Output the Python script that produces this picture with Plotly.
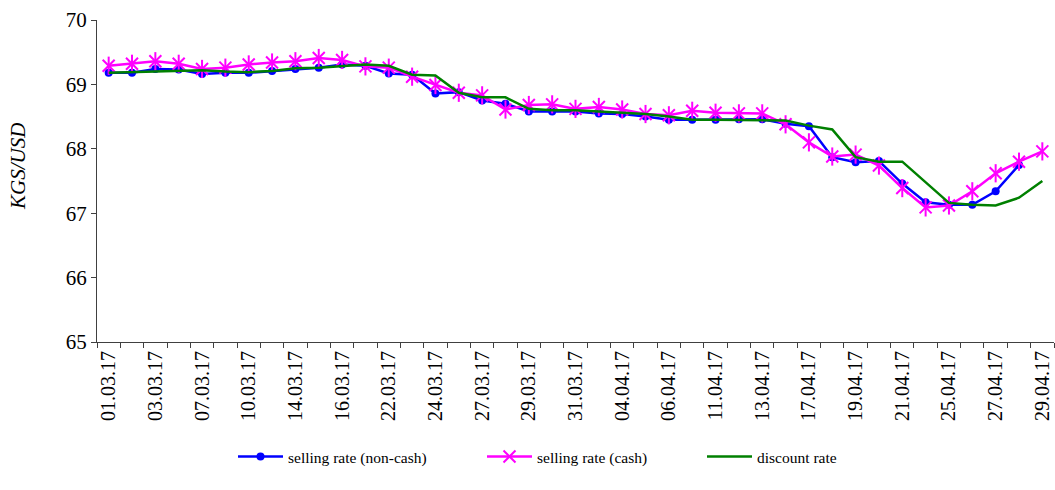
import plotly.graph_objects as go

dates = ["01.03.17", "02.03.17", "03.03.17", "06.03.17", "07.03.17", "09.03.17", "10.03.17",
         "13.03.17", "14.03.17", "15.03.17", "16.03.17", "17.03.17", "22.03.17", "23.03.17",
         "24.03.17", "25.03.17", "27.03.17", "28.03.17", "29.03.17", "30.03.17", "31.03.17",
         "03.04.17", "04.04.17", "05.04.17", "06.04.17", "10.04.17", "11.04.17", "12.04.17",
         "13.04.17", "14.04.17", "17.04.17", "18.04.17", "19.04.17", "20.04.17", "21.04.17",
         "24.04.17", "25.04.17", "26.04.17", "27.04.17", "28.04.17", "29.04.17"]

non_cash = [69.18, 69.18, 69.24, 69.23, 69.16, 69.18, 69.18, 69.21, 69.24, 69.26, 69.31,
            69.29, 69.17, 69.15, 68.86, 68.88, 68.75, 68.70, 68.58, 68.58, 68.58, 68.55,
            68.54, 68.50, 68.45, 68.45, 68.45, 68.46, 68.46, 68.39, 68.35, 67.87, 67.79,
            67.81, 67.46, 67.17, 67.13, 67.13, 67.34, 67.75, None]

cash = [69.29, 69.32, 69.36, 69.32, 69.24, 69.26, 69.31, 69.34, 69.36, 69.41, 69.38,
        69.28, 69.26, 69.12, 68.99, 68.87, 68.83, 68.61, 68.68, 68.69, 68.62, 68.65,
        68.61, 68.54, 68.52, 68.59, 68.56, 68.55, 68.55, 68.38, 68.10, 67.88, 67.91,
        67.74, 67.39, 67.09, 67.12, 67.34, 67.62, 67.80, 67.96]

discount = [69.18, 69.19, 69.20, 69.21, 69.22, 69.20, 69.19, 69.21, 69.25, 69.26, 69.28,
            69.31, 69.29, 69.15, 69.14, 68.87, 68.80, 68.80, 68.62, 68.60, 68.60, 68.58,
            68.56, 68.54, 68.50, 68.45, 68.45, 68.45, 68.45, 68.44, 68.36, 68.30, 67.87,
            67.80, 67.80, 67.48, 67.16, 67.13, 67.12, 67.24, 67.50]

tick_labels = [d if i % 2 == 0 else "" for i, d in enumerate(dates)]

FONT = "Liberation Serif, Times New Roman, serif"
BLUE = "#0000FF"
PINK = "#FF00FF"
GREEN = "#008000"

fig = go.Figure()
fig.add_trace(go.Scatter(
    x=dates, y=non_cash, name="selling rate (non-cash)", mode="lines+markers",
    legend="legend",
    line=dict(color=BLUE, width=2.5),
    marker=dict(symbol="circle", size=8, color=BLUE),
))
fig.add_trace(go.Scatter(
    x=dates, y=cash, name="selling rate (cash)", mode="lines+markers",
    legend="legend2", legendgroup="cash",
    line=dict(color=PINK, width=2.5),
    marker=dict(symbol="x-thin-open", size=12, color=PINK, line=dict(color=PINK, width=2)),
))
fig.add_trace(go.Scatter(
    x=dates, y=cash, name="selling rate (cash)", mode="markers",
    legend="legend2", legendgroup="cash", showlegend=False, hoverinfo="skip",
    marker=dict(symbol="line-ns-open", size=13, color=PINK, line=dict(color=PINK, width=2)),
))
fig.add_trace(go.Scatter(
    x=dates, y=discount, name="discount rate", mode="lines",
    legend="legend3",
    line=dict(color=GREEN, width=2.5),
))

plot_left, plot_w = 97, 957
def px_to_paper(px):
    return (px - plot_left) / plot_w

leg_common = dict(
    orientation="h", xanchor="left", y=-0.357, yanchor="middle",
    font=dict(family=FONT, size=15.5, color="black"),
    itemwidth=45, bgcolor="rgba(0,0,0,0)", borderwidth=0,
)

fig.update_layout(
    width=1055, height=490,
    margin=dict(l=97, r=1, t=20, b=148),
    paper_bgcolor="white", plot_bgcolor="white",
    font=dict(family=FONT, color="black"),
    showlegend=True,
    legend=dict(x=px_to_paper(233), **leg_common),
    legend2=dict(x=px_to_paper(482), **leg_common),
    legend3=dict(x=px_to_paper(702), **leg_common),
    xaxis=dict(
        type="category", categoryorder="array", categoryarray=dates,
        range=[-0.5, len(dates) - 0.5],
        tickmode="array", tickvals=dates, ticktext=tick_labels,
        tickson="boundaries", ticks="outside", ticklen=5, tickcolor="#404040",
        tickangle=-90, tickfont=dict(family=FONT, size=20, color="black"),
        showline=True, linecolor="#404040", linewidth=1,
        showgrid=False, zeroline=False,
    ),
    yaxis=dict(
        range=[65, 70], dtick=1, tick0=65,
        ticks="outside", ticklen=5, tickcolor="#404040",
        tickfont=dict(family=FONT, size=21, color="black"),
        showline=True, linecolor="#404040", linewidth=1,
        showgrid=False, zeroline=False,
    ),
    annotations=[dict(
        text="<i>KGS/USD</i>", textangle=-90, showarrow=False,
        xref="paper", yref="paper", x=px_to_paper(18), y=(342 - 167) / 322,
        xanchor="center", yanchor="middle",
        font=dict(family=FONT, size=21, color="black"),
    )],
)

fig.write_html("out.html", config={"displayModeBar": False},
               post_script="document.body.style.margin='0';")
